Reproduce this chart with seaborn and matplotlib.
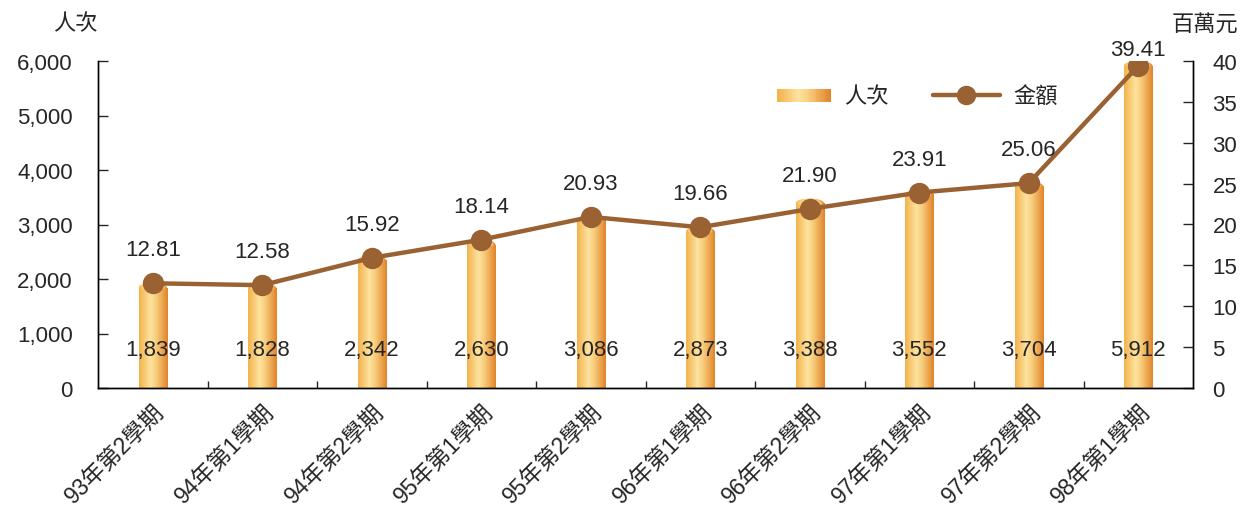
import numpy as np
import pandas as pd
import matplotlib
matplotlib.use("Agg")
import matplotlib.pyplot as plt
import matplotlib.transforms as mtrans
from matplotlib.colors import LinearSegmentedColormap
from matplotlib.patches import Rectangle, Ellipse
from matplotlib.lines import Line2D
from matplotlib.legend_handler import HandlerBase
import seaborn as sns

# ---- data ----
semesters = ["93年第2學期", "94年第1學期", "94年第2學期", "95年第1學期", "95年第2學期",
             "96年第1學期", "96年第2學期", "97年第1學期", "97年第2學期", "98年第1學期"]
persons = [1839, 1828, 2342, 2630, 3086, 2873, 3388, 3552, 3704, 5912]
amounts = [12.81, 12.58, 15.92, 18.14, 20.93, 19.66, 21.90, 23.91, 25.06, 39.41]

sns.set_style("ticks")
plt.rcParams["font.family"] = ["Liberation Sans", "Noto Sans CJK TC", "DejaVu Sans"]
plt.rcParams["axes.linewidth"] = 1.0

FS = 16
line_color = "#9A6133"
MS, LW = 13, 3.2
cyl = LinearSegmentedColormap.from_list(
    "cyl", [(0.0, "#F2B24A"), (0.4, "#FDE3A0"), (0.6, "#F8CC7A"), (1.0, "#E0832A")])

fig = plt.figure(figsize=(12.4, 5.1), dpi=100)
ax = fig.add_axes([98 / 1240, 1 - 389 / 510, (1193 - 98) / 1240, (389 - 62) / 510])

df = pd.DataFrame({"semester": semesters, "persons": persons})
sns.barplot(data=df, x="semester", y="persons", ax=ax, width=0.26,
            color="#F5C16A", edgecolor="none", saturation=1)

# cylinder shading: horizontal gradient clipped to each bar, plus an elliptical cap
grad = np.linspace(0, 1, 256).reshape(1, -1)
cap_h = 180
for p in list(ax.patches):
    x0, w, h = p.get_x(), p.get_width(), p.get_height()
    im = ax.imshow(grad, cmap=cyl, aspect="auto", extent=(x0, x0 + w, 0, h),
                   zorder=2, interpolation="bicubic")
    im.set_clip_path(p)
    cap = Ellipse((x0 + w / 2, h), w, cap_h, facecolor="none", edgecolor="none", zorder=2)
    ax.add_patch(cap)
    im2 = ax.imshow(grad, cmap=cyl, aspect="auto",
                    extent=(x0, x0 + w, h - cap_h / 2, h + cap_h / 2),
                    zorder=2.1, interpolation="bicubic")
    im2.set_clip_path(cap)
    hl = Ellipse((x0 + w / 2, h + cap_h * 0.05), w * 0.85, cap_h * 0.75,
                 facecolor="#FBD07A", edgecolor="none", alpha=0.75, zorder=2.2)
    ax.add_patch(hl)
    p.set_facecolor("none")

# bar value labels near the bottom
for i, v in enumerate(persons):
    ax.text(i, 700, f"{v:,}", ha="center", va="center", fontsize=FS, zorder=5)

ax.set_ylim(0, 6000)
ax.set_yticks(np.arange(0, 6001, 1000))
ax.set_yticklabels([f"{t:,}" for t in range(0, 6001, 1000)])
ax.set_xlabel("")
ax.set_ylabel("")

# amount line on the secondary axis
ax2 = ax.twinx()
sns.pointplot(x=semesters, y=amounts, ax=ax2, color=line_color, markers="o",
              markersize=MS, linewidth=LW, errorbar=None)
top2 = 40
for i, v in enumerate(amounts):
    # labels close to the top edge sit tighter to their point
    off = 24 if v < top2 * 0.9 else 12
    ax2.annotate(f"{v:.2f}", (i, v), xytext=(0, off), textcoords="offset points",
                 ha="center", va="center", fontsize=FS)
ax2.set_ylim(0, top2)
ax2.set_yticks(np.arange(0, top2 + 1, 5))
ax2.set_ylabel("")

ax.set_xlim(-0.5, len(semesters) - 0.5)
ax.set_xticks(range(len(semesters)))
ax.set_xticklabels(semesters, rotation=45, ha="right", va="top",
                   rotation_mode="anchor", fontsize=16.5)
shift = mtrans.ScaledTranslation(1.5 / 72, -2 / 72, fig.dpi_scale_trans)
for lab in ax.get_xticklabels():
    lab.set_transform(lab.get_transform() + shift)
ax.set_xticks(np.arange(0.5, len(semesters) - 1, 1), minor=True)
ax.tick_params(axis="x", which="major", length=0, pad=8)
ax.tick_params(axis="x", which="minor", length=5, direction="in", width=1)
ax.tick_params(axis="y", length=7, direction="in", width=1, pad=18, labelsize=FS)
ax2.tick_params(axis="y", length=7, direction="in", width=1, pad=14, labelsize=FS)

for a in (ax, ax2):
    a.spines["top"].set_visible(False)
    a.spines["left"].set_visible(True)
    a.spines["right"].set_visible(True)
    a.spines["bottom"].set_visible(True)
    for s in a.spines.values():
        s.set_color("black")

fig.text(75 / 1240, 1 - 25 / 510, "人次", ha="center", va="center", fontsize=FS)
fig.text(1205 / 1240, 1 - 25 / 510, "百萬元", ha="center", va="center", fontsize=FS)


class GradientBarHandler(HandlerBase):
    def create_artists(self, legend, orig_handle, xdescent, ydescent, width, height,
                       fontsize, trans):
        n = 30
        bw = width * 0.8
        start = -xdescent + width - bw
        arts = []
        for k in range(n):
            r = Rectangle((start + bw * k / n, -ydescent + height * 0.05),
                          bw / n + 0.3, height * 0.85,
                          facecolor=cyl((k + 0.5) / n), edgecolor="none",
                          transform=trans)
            arts.append(r)
        return arts


bar_handle = Rectangle((0, 0), 1, 1)
line_handle = Line2D([], [], color=line_color, marker="o", markersize=MS, linewidth=LW)
fig.legend([bar_handle, line_handle], ["人次", "金額"],
           handler_map={Rectangle: GradientBarHandler()},
           loc="center left", bbox_to_anchor=(744 / 1240, 1 - 98 / 510),
           ncol=2, frameon=False, fontsize=FS, handlelength=3.0,
           columnspacing=2.0, handletextpad=0.6)

fig.savefig("out.png", dpi=100)
